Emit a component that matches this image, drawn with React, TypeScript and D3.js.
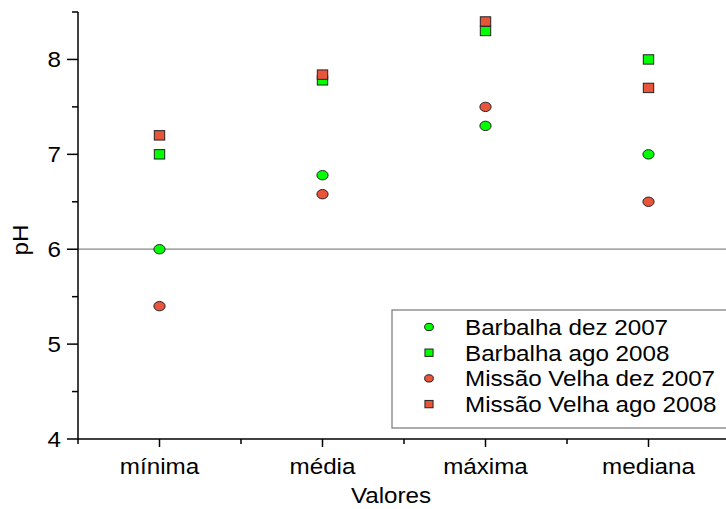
import React from "react";
import * as d3 from "d3";

const categories = ["mínima", "média", "máxima", "mediana"];
const barbalhaDez2007 = [6.0, 6.78, 7.3, 7.0];
const barbalhaAgo2008 = [7.0, 7.78, 8.3, 8.0];
const missaoDez2007 = [5.4, 6.58, 7.5, 6.5];
const missaoAgo2008 = [7.2, 7.84, 8.4, 7.7];
const yTicks = [4, 5, 6, 7, 8];
const yMinorTicks = [4.5, 5.5, 6.5, 7.5, 8.5];

const GREEN = "#00ff00";
const RED = "#e8553a";

const series = [
  { name: "Barbalha dez 2007", values: barbalhaDez2007, shape: "circle", color: GREEN },
  { name: "Barbalha ago 2008", values: barbalhaAgo2008, shape: "square", color: GREEN },
  { name: "Missão Velha dez 2007", values: missaoDez2007, shape: "circle", color: RED },
  { name: "Missão Velha ago 2008", values: missaoAgo2008, shape: "square", color: RED },
];

const W = 726;
const H = 509;
const FONT = "'Liberation Sans', Arial, sans-serif";
const SX = 1.1;

function Marker({ shape, color, cx, cy, k = 1 }: { shape: string; color: string; cx: number; cy: number; k?: number }) {
  if (shape === "circle") {
    return <ellipse cx={cx} cy={cy} rx={5.6 * k} ry={4.7 * k} fill={color} stroke="#222" strokeWidth={1} />;
  }
  return (
    <rect x={cx - 5.2 * k} y={cy - 4.7 * k} width={10.4 * k} height={9.4 * k} fill={color} stroke="#222" strokeWidth={1} />
  );
}

function T({ x, y, anchor = "start", dy, children }: { x: number; y: number; anchor?: string; dy?: string; children: React.ReactNode }) {
  return (
    <text transform={`translate(${x},${y}) scale(${SX},1)`} dy={dy} textAnchor={anchor} fontSize={22} fill="#000">
      {children}
    </text>
  );
}

export default function App() {
  const y = d3.scaleLinear().domain([4, 8.5]).range([439, 12]);
  const x = d3.scaleLinear().domain([0.5, 4.5]).range([78, 730]);
  const x0 = x(0.5);
  const y0 = y(4);
  const xMinor = [0.5, 1.5, 2.5, 3.5];

  return (
    <div>
      <style>{`body{margin:0}`}</style>
      <svg width={W} height={H} style={{ display: "block", background: "#fff" }} fontFamily={FONT}>
        {/* reference line at pH 6 */}
        <line x1={x0} x2={W} y1={y(6)} y2={y(6)} stroke="#888" strokeWidth={1.2} />

        {/* axes */}
        <line x1={x0} x2={x0} y1={y(8.5)} y2={y0} stroke="#000" strokeWidth={1.5} />
        <line x1={x0} x2={W} y1={y0} y2={y0} stroke="#000" strokeWidth={1.5} />

        {yTicks.map((t) => (
          <g key={"yt" + t}>
            <line x1={x0 - 11} x2={x0} y1={y(t)} y2={y(t)} stroke="#000" strokeWidth={1.5} />
            <T x={x0 - 17} y={y(t)} dy="0.36em" anchor="end">
              {t}
            </T>
          </g>
        ))}
        {yMinorTicks.map((t) => (
          <line key={"ym" + t} x1={x0 - 6} x2={x0} y1={y(t)} y2={y(t)} stroke="#000" strokeWidth={1.5} />
        ))}

        {categories.map((c, i) => (
          <g key={c}>
            <line x1={x(i + 1)} x2={x(i + 1)} y1={y0} y2={y0 + 8} stroke="#000" strokeWidth={1.5} />
            <T x={x(i + 1)} y={474} anchor="middle">
              {c}
            </T>
          </g>
        ))}
        {xMinor.map((t) => (
          <line key={"xm" + t} x1={x(t)} x2={x(t)} y1={y0} y2={y0 + 5} stroke="#000" strokeWidth={1.5} />
        ))}

        <T x={391} y={503} anchor="middle">
          Valores
        </T>
        <text transform={`translate(28, 240) rotate(-90) scale(${SX},1)`} textAnchor="middle" fontSize={22} fill="#000">
          pH
        </text>

        {/* points */}
        {series.map((s) =>
          s.values.map((v, i) => (
            <Marker key={s.name + i} shape={s.shape} color={s.color} cx={x(i + 1)} cy={y(v)} />
          ))
        )}

        {/* legend */}
        <rect x={392} y={310} width={345} height={118} fill="#fff" stroke="#777" strokeWidth={1.2} />
        {series.map((s, i) => (
          <g key={"lg" + s.name}>
            <Marker shape={s.shape} color={s.color} cx={429} cy={327 + i * 25.7} k={0.78} />
            <T x={465} y={327 + i * 25.7} dy="0.36em">
              {s.name}
            </T>
          </g>
        ))}
      </svg>
    </div>
  );
}
